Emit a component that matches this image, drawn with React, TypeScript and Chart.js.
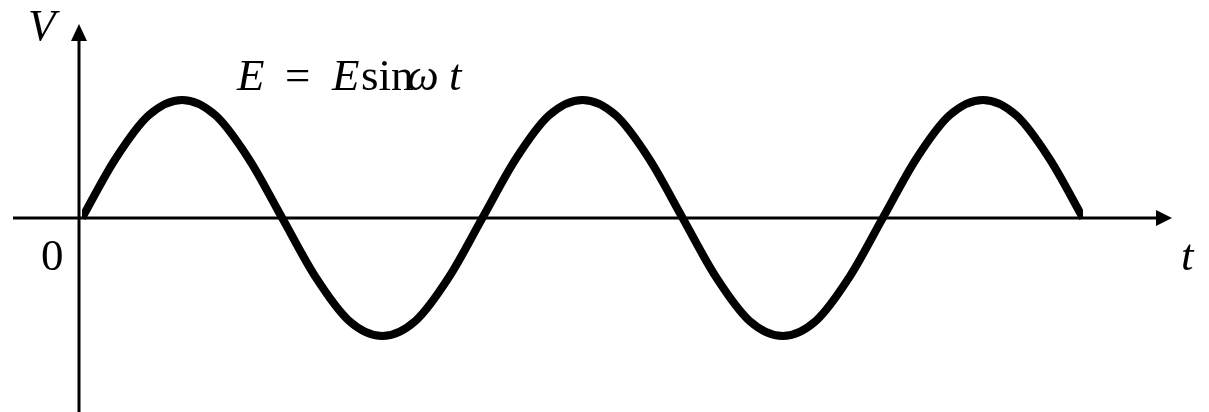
import React, { useEffect, useRef } from "react";
import { Chart, registerables } from "chart.js";

Chart.register(...registerables);

// Phase of ωt in degrees (2.5 periods)
const phaseDeg: number[] = [
  0, 30, 60, 90, 120, 150, 180, 210, 240, 270, 300, 330,
  360, 390, 420, 450, 480, 510, 540, 570, 600, 630, 660, 690,
  720, 750, 780, 810, 840, 870, 900,
];
// Voltage values (normalised to amplitude E = 1)
const voltage: number[] = [
  0, 0.5, 0.87, 1, 0.87, 0.5, 0, -0.5, -0.87, -1, -0.87, -0.5,
  0, 0.5, 0.87, 1, 0.87, 0.5, 0, -0.5, -0.87, -1, -0.87, -0.5,
  0, 0.5, 0.87, 1, 0.87, 0.5, 0,
];
const yAxisLabel = "V";
const xAxisLabel = "t";
const originLabel = "0";
const formulaParts: { text: string; italic: boolean; x: number }[] = [
  { text: "E", italic: true, x: 237 },
  { text: "=", italic: false, x: 285 },
  { text: "E", italic: true, x: 332 },
  { text: "sin", italic: false, x: 361 },
  { text: "ω", italic: true, x: 407 },
  { text: "t", italic: true, x: 449 },
];

const FONT = '"Liberation Serif", "DejaVu Serif", serif';

const axesPlugin = {
  id: "axesPlugin",
  afterDraw(chart: any) {
    const ctx = chart.ctx as CanvasRenderingContext2D;
    const xs = chart.scales.x;
    const ys = chart.scales.y;
    const x0 = xs.getPixelForValue(0) - 3;
    const y0 = ys.getPixelForValue(0);
    ctx.save();
    ctx.strokeStyle = "#000";
    ctx.fillStyle = "#000";
    ctx.lineWidth = 3;
    // x axis
    ctx.beginPath();
    ctx.moveTo(13, y0);
    ctx.lineTo(1160, y0);
    ctx.stroke();
    ctx.beginPath();
    ctx.moveTo(1172, y0);
    ctx.lineTo(1156, y0 - 8);
    ctx.lineTo(1156, y0 + 8);
    ctx.closePath();
    ctx.fill();
    // y axis
    ctx.beginPath();
    ctx.moveTo(x0, 412);
    ctx.lineTo(x0, 38);
    ctx.stroke();
    ctx.beginPath();
    ctx.moveTo(x0, 24);
    ctx.lineTo(x0 - 8, 41);
    ctx.lineTo(x0 + 8, 41);
    ctx.closePath();
    ctx.fill();

    ctx.textBaseline = "alphabetic";
    ctx.textAlign = "left";
    ctx.font = `italic 45px ${FONT}`;
    ctx.fillText(yAxisLabel, 28, 40);
    ctx.fillText(xAxisLabel, 1181, 270);
    ctx.font = `45px ${FONT}`;
    ctx.fillText(originLabel, 41, 270);
    for (const p of formulaParts) {
      ctx.font = `${p.italic ? "italic " : ""}45px ${FONT}`;
      ctx.fillText(p.text, p.x, 90);
    }
    ctx.restore();
  },
};

export default function App() {
  const ref = useRef<HTMLCanvasElement | null>(null);
  useEffect(() => {
    if (!ref.current) return;
    const chart = new Chart(ref.current, {
      type: "line",
      data: {
        datasets: [
          {
            data: phaseDeg.map((p, i) => ({ x: p, y: voltage[i] })),
            borderColor: "#000",
            borderWidth: 8,
            pointRadius: 0,
            cubicInterpolationMode: "monotone",
            borderCapStyle: "butt",
            borderJoinStyle: "round",
            fill: false,
          },
        ],
      },
      options: {
        animation: false,
        responsive: false,
        maintainAspectRatio: false,
        events: [],
        layout: { padding: { left: 82, right: 126, top: 25, bottom: 1 } },
        plugins: {
          legend: { display: false },
          tooltip: { enabled: false },
        },
        scales: {
          x: { type: "linear", min: 0, max: 900, display: false },
          y: { type: "linear", min: -1.636, max: 1.636, display: false },
        },
      },
      plugins: [axesPlugin],
    });
    return () => chart.destroy();
  }, []);
  return (
    <div style={{ position: "absolute", left: 0, top: 0, width: 1209, height: 412, background: "#fff" }}>
      <canvas ref={ref} width={1209} height={412} style={{ width: 1209, height: 412 }} />
    </div>
  );
}
